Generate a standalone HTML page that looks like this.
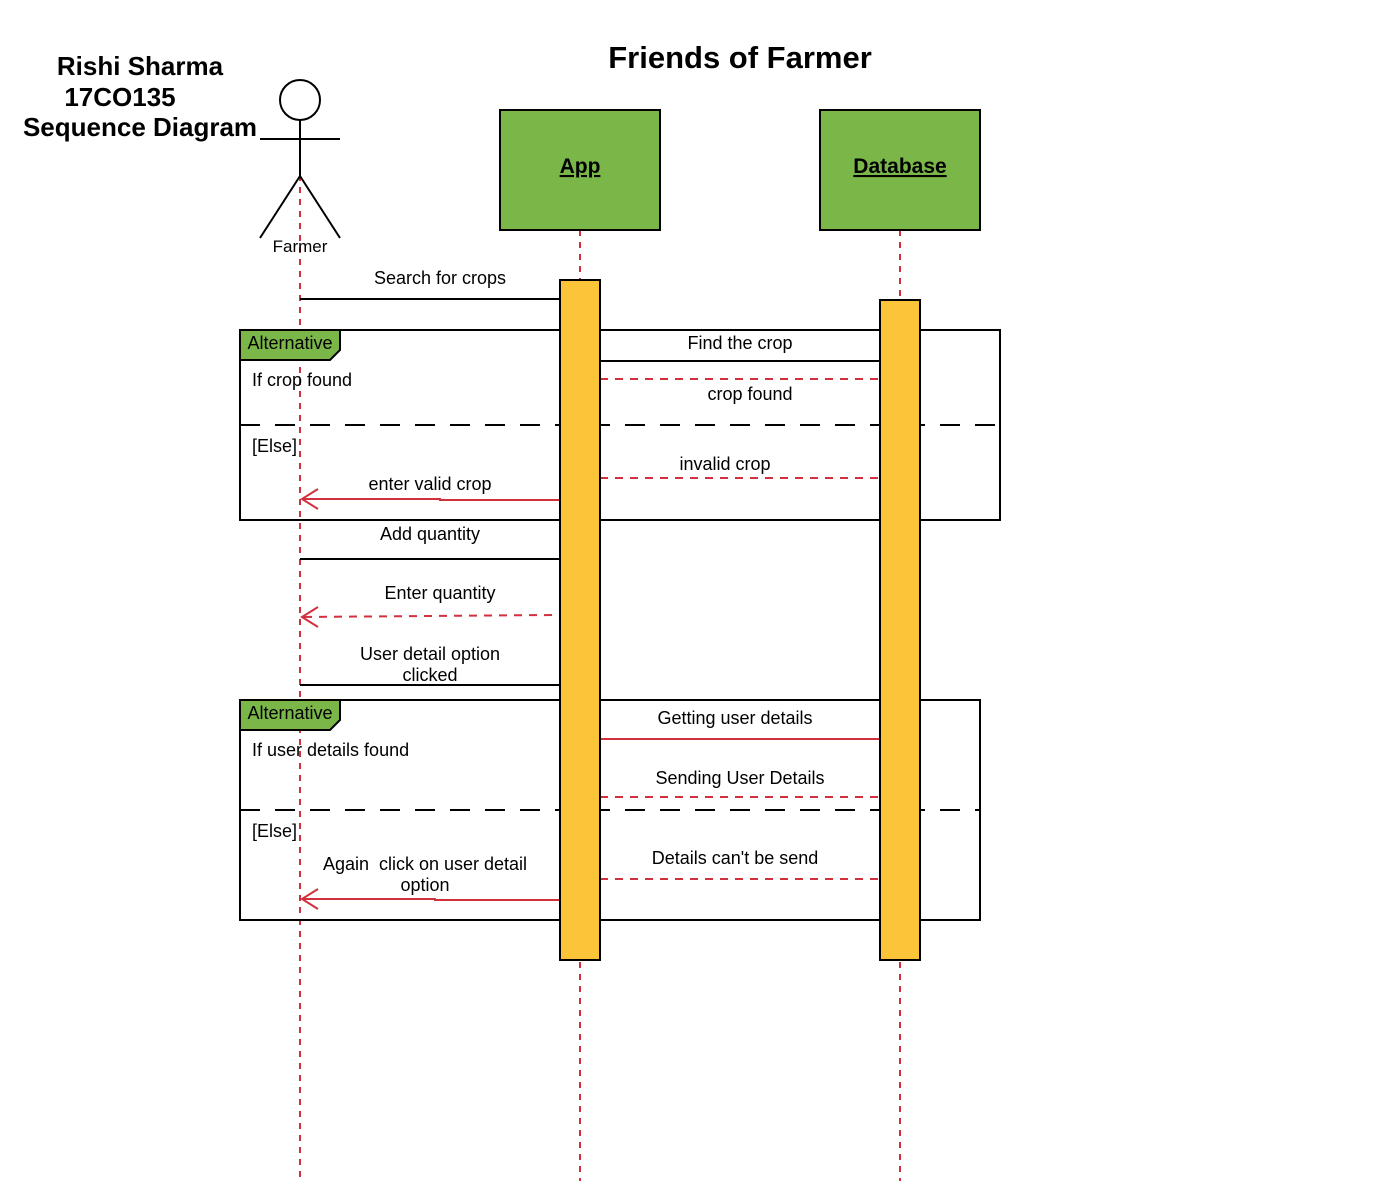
<!DOCTYPE html>
<html><head><meta charset="utf-8"><style>
html,body{margin:0;padding:0;background:#fff}
svg{display:block}
text{font-family:"Liberation Sans",sans-serif;fill:#000}
</style></head><body>
<svg width="1386" height="1181" viewBox="0 0 1386 1181" xmlns="http://www.w3.org/2000/svg">
<!-- titles -->
<text x="140" y="75" font-size="26" font-weight="bold" text-anchor="middle">Rishi Sharma</text>
<text x="120" y="106" font-size="26" font-weight="bold" text-anchor="middle">17CO135</text>
<text x="140" y="136" font-size="26" font-weight="bold" text-anchor="middle">Sequence Diagram</text>
<text x="740" y="68" font-size="31" font-weight="bold" text-anchor="middle">Friends of Farmer</text>

<!-- lifelines -->
<g stroke="#d0313d" stroke-width="2" stroke-dasharray="6,6" fill="none">
<line x1="300" y1="175" x2="300" y2="1181"/>
<line x1="580" y1="230" x2="580" y2="1181"/>
<line x1="900" y1="230" x2="900" y2="1181"/>
</g>

<!-- actor -->
<g stroke="#000" stroke-width="2" fill="none">
<circle cx="300" cy="100" r="20" fill="#fff"/>
<line x1="300" y1="120" x2="300" y2="176"/>
<line x1="260" y1="139" x2="340" y2="139"/>
<line x1="300" y1="176" x2="260" y2="238"/>
<line x1="300" y1="176" x2="340" y2="238"/>
</g>
<text x="300" y="252" font-size="17" text-anchor="middle">Farmer</text>

<!-- objects -->
<rect x="500" y="110" width="160" height="120" fill="#7ab648" stroke="#000" stroke-width="2"/>
<text x="580" y="173" font-size="21" font-weight="bold" text-anchor="middle" text-decoration="underline">App</text>
<rect x="820" y="110" width="160" height="120" fill="#7ab648" stroke="#000" stroke-width="2"/>
<text x="900" y="173" font-size="21" font-weight="bold" text-anchor="middle" text-decoration="underline">Database</text>

<!-- frames -->
<g stroke="#000" stroke-width="2" fill="none">
<rect x="240" y="330" width="760" height="190"/>
<line x1="240" y1="425" x2="1000" y2="425" stroke-dasharray="20,15"/>
<rect x="240" y="700" width="740" height="220"/>
<line x1="240" y1="810" x2="980" y2="810" stroke-dasharray="20,15"/>
</g>
<polygon points="240,330 340,330 340,350 330,360 240,360" fill="#7ab648" stroke="#000" stroke-width="2"/>
<polygon points="240,700 340,700 340,720 330,730 240,730" fill="#7ab648" stroke="#000" stroke-width="2"/>
<text x="290" y="349" font-size="18" text-anchor="middle">Alternative</text>
<text x="290" y="719" font-size="18" text-anchor="middle">Alternative</text>
<text x="252" y="386" font-size="18">If crop found</text>
<text x="252" y="452" font-size="18">[Else]</text>
<text x="252" y="756" font-size="18">If user details found</text>
<text x="252" y="837" font-size="18">[Else]</text>

<!-- messages -->
<g stroke-width="2" fill="none">
<line x1="300" y1="299" x2="560" y2="299" stroke="#000"/>
<line x1="600" y1="361" x2="880" y2="361" stroke="#000"/>
<line x1="600" y1="379" x2="880" y2="379" stroke="#d0313d" stroke-dasharray="8,7"/>
<line x1="600" y1="478" x2="880" y2="478" stroke="#d0313d" stroke-dasharray="8,7"/>
<polyline points="560,500 440,500 440,499 302,499" stroke="#d0313d"/>
<polyline points="318,489 302,499 318,509" stroke="#d0313d"/>
<line x1="300" y1="559" x2="560" y2="559" stroke="#000"/>
<line x1="552" y1="615" x2="302" y2="617" stroke="#d0313d" stroke-dasharray="8,7"/>
<polyline points="318,607 302,617 318,627" stroke="#d0313d"/>
<line x1="300" y1="685" x2="560" y2="685" stroke="#000"/>
<line x1="600" y1="739" x2="880" y2="739" stroke="#d0313d"/>
<line x1="600" y1="797" x2="880" y2="797" stroke="#d0313d" stroke-dasharray="8,7"/>
<line x1="600" y1="879" x2="880" y2="879" stroke="#d0313d" stroke-dasharray="8,7"/>
<polyline points="560,900 435,900 435,899 302,899" stroke="#d0313d"/>
<polyline points="318,889 302,899 318,909" stroke="#d0313d"/>
</g>

<!-- activations -->
<rect x="560" y="280" width="40" height="680" fill="#fcc438" stroke="#000" stroke-width="2"/>
<rect x="880" y="300" width="40" height="660" fill="#fcc438" stroke="#000" stroke-width="2"/>

<!-- labels -->
<g font-size="18" text-anchor="middle">
<text x="440" y="284">Search for crops</text>
<text x="740" y="349">Find the crop</text>
<text x="750" y="400">crop found</text>
<text x="725" y="470">invalid crop</text>
<text x="430" y="490">enter valid crop</text>
<text x="430" y="540">Add quantity</text>
<text x="440" y="599">Enter quantity</text>
<text x="430" y="660">User detail option</text>
<text x="430" y="681">clicked</text>
<text x="735" y="724">Getting user details</text>
<text x="740" y="784">Sending User Details</text>
<text x="735" y="864">Details can't be send</text>
<text x="425" y="870" xml:space="preserve">Again  click on user detail</text>
<text x="425" y="891">option</text>
</g>
</svg>
</body></html>
